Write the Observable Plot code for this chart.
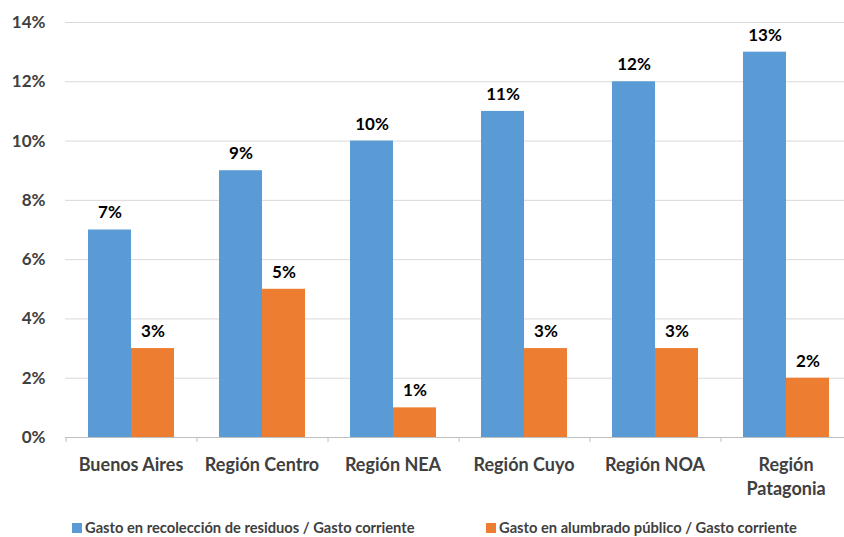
<!DOCTYPE html>
<html><head><meta charset="utf-8">
<script src="https://cdn.jsdelivr.net/npm/d3@7"></script>
<script src="https://cdn.jsdelivr.net/npm/@observablehq/plot@0.6"></script>
<style>
body{margin:0;background:#fff;overflow:hidden}
#wrap{width:844px;height:537px;overflow:hidden;position:relative;font-family:Lato, sans-serif;background:#fff}
#chart{width:852px}
#chart svg{display:block;max-width:none !important;width:852px;height:500px}
#legend{position:absolute;left:0;top:500px;width:844px;height:37px;font-weight:bold;font-size:14.7px;color:#404040}
.item{position:absolute;top:20px;display:flex;align-items:center;white-space:nowrap;line-height:15px}
.sw{width:10px;height:10px;margin-right:3px;flex:none}
</style></head><body><div id="wrap"><div id="chart"></div><div id="legend"></div></div>
<script>
const regions = ["Buenos Aires", "Región Centro", "Región NEA", "Región Cuyo", "Región NOA", "Región Patagonia"];
const regionLabels = ["Buenos Aires", "Región Centro", "Región NEA", "Región Cuyo", "Región NOA", "Región\nPatagonia"];
const residuos = [7, 9, 10, 11, 12, 13];
const alumbrado = [3, 5, 1, 3, 3, 2];
const seriesNames = ["Gasto en recolección de residuos / Gasto corriente", "Gasto en alumbrado público / Gasto corriente"];
const seriesColors = ["#5b9bd5", "#ed7d31"];
const yTicks = [0, 2, 4, 6, 8, 10, 12, 14];

const data = regions.flatMap((r, i) => [
  {region: r, serie: seriesNames[0], value: residuos[i]},
  {region: r, serie: seriesNames[1], value: alumbrado[i]}
]);

const W = 852, ML = 64, MR = 0;
const pad = 0.51;
const fxStep = (W - ML - MR) / regions.length;
const xStep = fxStep / (2 + 2 * pad);
const tickDx = -(pad + 0.5) * xStep;

const chart = Plot.plot({
  width: W, height: 500,
  marginLeft: ML, marginRight: MR, marginTop: 22, marginBottom: 63,
  style: {fontFamily: "Lato, sans-serif", fontWeight: "bold", background: "white", overflow: "visible", maxWidth: "none"},
  fx: {domain: regions, padding: 0, axis: null, label: null},
  x: {domain: seriesNames, paddingInner: 0, paddingOuter: pad, axis: null},
  y: {domain: [0, 14], axis: null},
  color: {domain: seriesNames, range: seriesColors},
  marks: [
    Plot.gridY(yTicks.filter(d => d > 0), {stroke: "#d9d9d9", strokeOpacity: 1, strokeWidth: 1}),
    Plot.ruleY([0], {stroke: "#bfbfbf"}),
    Plot.ruleX(regions, {fx: d => d, x: d => seriesNames[0], y1: 0, y2: 0, insetBottom: -5, dx: tickDx, stroke: "#bfbfbf"}),
    Plot.barY(data, {fx: "region", x: "serie", y: "value", fill: "serie"}),
    Plot.text(data, {fx: "region", x: "serie", y: "value", text: d => d.value + "%", dy: -17, fontSize: 17, fontWeight: "bold", fill: "#000"}),
    Plot.axisY({ticks: yTicks, tickFormat: d => d + "%", tickSize: 0, tickPadding: 20, fontSize: 17, fontWeight: "bold", color: "#404040", label: null}),
    Plot.axisFx({anchor: "bottom", tickSize: 0, tickPadding: 17, tickFormat: d => regionLabels[regions.indexOf(d)], fontSize: 18, fontWeight: "bold", color: "#404040", lineHeight: 1.3, label: null})
  ]
});
document.getElementById("chart").appendChild(chart);

const lefts = [72, 486];
const legend = document.getElementById("legend");
seriesNames.forEach((s, i) => {
  const it = document.createElement("div");
  it.className = "item";
  it.style.left = lefts[i] + "px";
  const sw = document.createElement("span");
  sw.className = "sw";
  sw.style.background = seriesColors[i];
  const t = document.createElement("span");
  t.textContent = s;
  it.appendChild(sw); it.appendChild(t);
  legend.appendChild(it);
});
</script></body></html>
